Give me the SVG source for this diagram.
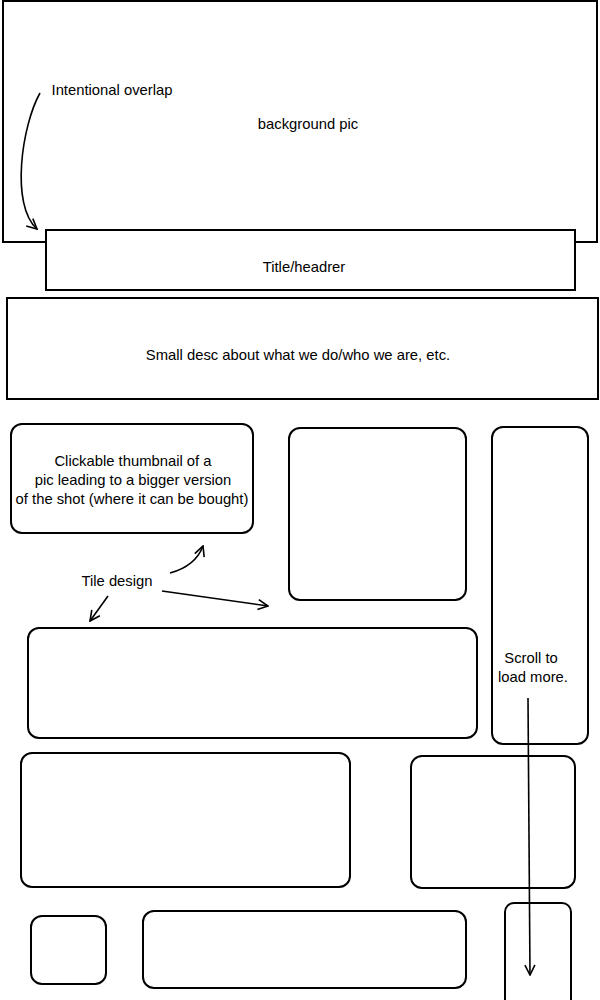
<svg xmlns="http://www.w3.org/2000/svg" width="600" height="1000" viewBox="0 0 600 1000">
<defs>
<marker id="arr" viewBox="0 0 12 12" refX="11" refY="6" markerWidth="12" markerHeight="12" markerUnits="userSpaceOnUse" orient="auto">
<path d="M1,1 L11,6 L1,11" fill="none" stroke="#000" stroke-width="1.6"/>
</marker>
<style>
.b{fill:#fff;stroke:#000;stroke-width:2}
.r{fill:#fff;stroke:#000;stroke-width:2}
.t{font-family:"Liberation Sans",Arial,sans-serif;font-size:14.8px;fill:#000;text-anchor:middle}
.c{fill:none;stroke:#000;stroke-width:1.6;marker-end:url(#arr)}
</style>
</defs>
<rect width="600" height="1000" fill="#fff"/>
<g id="bg"><rect class="b" x="3" y="1" width="594" height="241"/><text class="t" x="308" y="129">background pic</text></g>
<g id="title"><rect class="b" x="46" y="230" width="529" height="60" fill="none"/><text class="t" x="304" y="272">Title/headrer</text></g>
<g id="desc"><rect class="b" x="7" y="298" width="591" height="101"/><text class="t" x="298" y="360">Small desc about what we do/who we are, etc.</text></g>
<g id="overlap-label"><text class="t" x="112" y="95">Intentional overlap</text></g>
<g id="thumb"><rect class="r" x="11" y="424" width="242" height="109" rx="11"/>
<text class="t" x="133" y="466">Clickable thumbnail of a</text>
<text class="t" x="133" y="485">pic leading to a bigger version</text>
<text class="t" x="132" y="504">of the shot (where it can be bought)</text></g>
<g id="tile2"><rect class="r" x="289" y="428" width="177" height="172" rx="11"/></g>
<g id="tall"><rect class="r" x="492" y="427" width="96" height="317" rx="11"/>
<text class="t" x="531" y="663">Scroll to</text><text class="t" x="533" y="682">load more.</text></g>
<g id="wide"><rect class="r" x="28" y="628" width="449" height="110" rx="11"/></g>
<g id="tile5"><rect class="r" x="21" y="753" width="329" height="134" rx="11"/></g>
<g id="tile6"><rect class="r" x="411" y="756" width="164" height="132" rx="11"/></g>
<g id="tile7"><rect class="r" x="31" y="916" width="75" height="68" rx="11"/></g>
<g id="tile8"><rect class="r" x="143" y="911" width="323" height="77" rx="11"/></g>
<g id="tile9"><rect class="r" x="505" y="903" width="66" height="110" rx="9"/></g>
<g id="tile-label"><text class="t" x="117" y="586">Tile design</text></g>
<g id="connectors">
<path class="c" d="M40,93 C22,125 10,205 37,229"/>
<path class="c" d="M170,573 C185,569 197,562 203,546"/>
<path class="c" d="M162,591 L268,606"/>
<path class="c" d="M108,596 L90,621"/>
<path class="c" d="M528,698 L530,975"/>
</g>
</svg>
